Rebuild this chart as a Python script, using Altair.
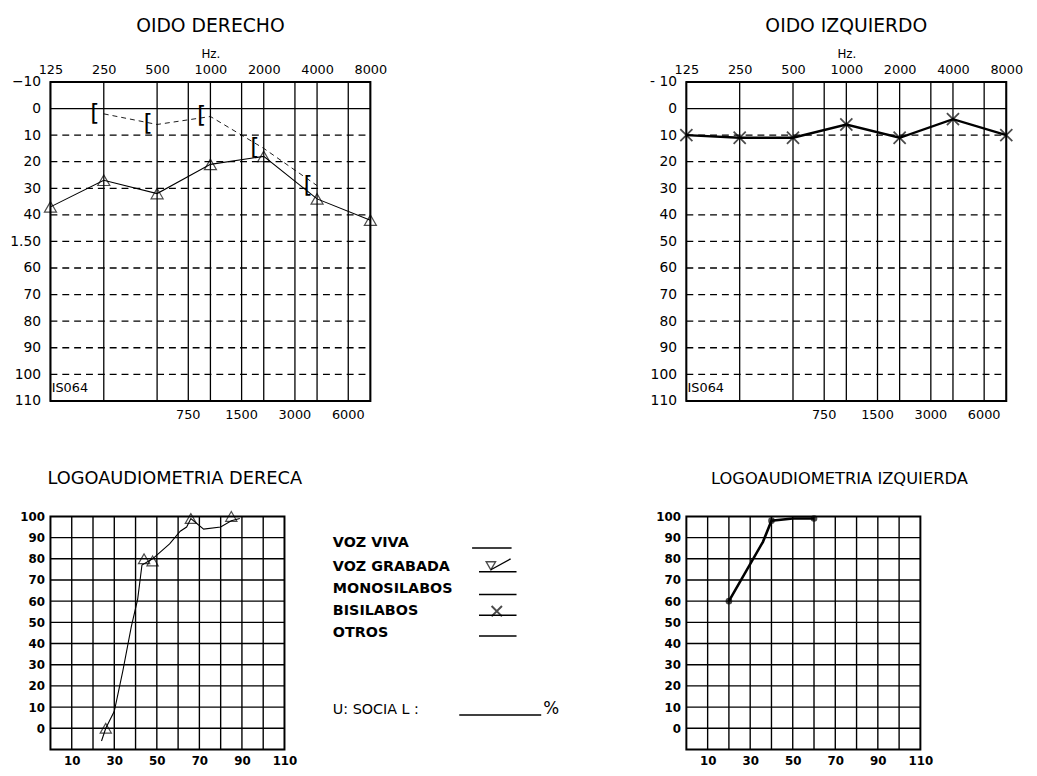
import altair as alt
import pandas as pd

FONT = "DejaVu Sans"

# ---------------- audiogram grids ----------------
FREQ_TOP = [125, 250, 500, 1000, 2000, 4000, 8000]
FREQ_BOTTOM = [750, 1500, 3000, 6000]
DB_TICKS = [-10, 0, 10, 20, 30, 40, 50, 60, 70, 80, 90, 100, 110]
DB_DASHED = [10, 20, 30, 40, 50, 60, 70, 80, 90, 100]
DB_SOLID = [0]

# right ear (OIDO DERECHO): air conduction (triangles) and bone conduction ([)
R_AC_FREQ = [125, 250, 500, 1000, 2000, 4000, 8000]
R_AC_DB = [37, 27, 32, 21, 18, 34, 42]
R_BC_FREQ = [250, 500, 1000, 2000, 4000]
R_BC_DB = [2, 6, 3, 15, 29]

# left ear (OIDO IZQUIERDO): X markers
L_AC_FREQ = [125, 250, 500, 1000, 2000, 4000, 8000]
L_AC_DB = [10, 11, 11, 6, 11, 4, 10]

# ---------------- speech audiometry ----------------
LOGO_X_GRID = [10, 20, 30, 40, 50, 60, 70, 80, 90, 100]
LOGO_Y_GRID = [0, 10, 20, 30, 40, 50, 60, 70, 80, 90]
LOGO_X_LABELS = [10, 30, 50, 70, 90, 110]
LOGO_Y_LABELS = [0, 10, 20, 30, 40, 50, 60, 70, 80, 90, 100]

R_LOGO_LINE_DB = [24, 26, 30, 34, 38, 41, 43, 48, 56, 61, 64, 66, 72, 80, 85, 89]
R_LOGO_LINE_PCT = [-6, 0, 8, 27, 48, 61, 77, 80, 87, 93, 95, 99, 94, 95, 98, 99]
R_LOGO_MARK_DB = [26, 44, 48, 66, 85]
R_LOGO_MARK_PCT = [0, 80, 79, 99, 100]

L_LOGO_LINE_DB = [20, 36, 40, 50, 60]
L_LOGO_LINE_PCT = [60, 88, 98, 99, 99]
L_LOGO_MARK_DB = [20, 40, 60]
L_LOGO_MARK_PCT = [60, 98, 99]

LEGEND_LABELS = ["VOZ VIVA", "VOZ GRABADA", "MONOSILABOS", "BISILABOS", "OTROS"]
SOCIAL_LABEL = "U:  SOCIA L :"

XSHAPE = "M-1,-1L1,1M-1,1L1,-1"

W_T, H_T = 324, 323
W_B, H_B = 237, 236

F_MIN, F_MAX = 125, 8000
DB_MIN, DB_MAX = -10, 110
xs = alt.Scale(type="log", domain=[F_MIN, F_MAX], nice=False)
ys = alt.Scale(domain=[DB_MIN, DB_MAX], reverse=True, nice=False, zero=False)


def audiogram_encoders(label_expr):
    ax_x = alt.Axis(
        orient="top", values=FREQ_TOP, format="d", title="Hz.",
        ticks=False, domain=False, grid=False, labelFlush=False,
        labelOverlap=False, labelFontSize=13, labelPadding=6,
        titleFontSize=12, titleFontWeight="normal", titlePadding=3)
    ax_y = alt.Axis(
        values=DB_TICKS, title=None, ticks=False, domain=False, grid=False,
        labelOverlap=False, labelFontSize=14, labelPadding=10, labelExpr=label_expr)

    def X(field):
        return alt.X(field, type="quantitative", scale=xs, axis=ax_x)

    def Y(field):
        return alt.Y(field, type="quantitative", scale=ys, axis=ax_y)

    return X, Y


def audiogram(title, label_expr, series_fn):
    X, Y = audiogram_encoders(label_expr)
    vtop = alt.Chart(pd.DataFrame({"f": FREQ_TOP, "a": DB_MIN, "b": DB_MAX})).mark_rule(
        color="black", strokeWidth=1.3
    ).encode(x=X("f"), y=Y("a"), y2="b:Q")
    vbot = alt.Chart(pd.DataFrame({"f": FREQ_BOTTOM, "a": DB_MIN, "b": DB_MAX})).mark_rule(
        color="black", strokeWidth=1.3
    ).encode(x=X("f"), y=Y("a"), y2="b:Q")
    vbot_lab = alt.Chart(pd.DataFrame({"f": FREQ_BOTTOM, "a": DB_MAX})).mark_text(
        fontSize=13, font=FONT, color="black", baseline="top", dy=8
    ).encode(x=X("f"), y=Y("a"), text=alt.Text("f:Q", format="d"))
    hdash = alt.Chart(pd.DataFrame({"d": DB_DASHED, "a": F_MIN, "b": F_MAX})).mark_rule(
        color="black", strokeWidth=1.3, strokeDash=[7, 5]
    ).encode(y=Y("d"), x=X("a"), x2="b:Q")
    hsolid = alt.Chart(pd.DataFrame({"d": DB_SOLID, "a": F_MIN, "b": F_MAX})).mark_rule(
        color="black", strokeWidth=1.3
    ).encode(y=Y("d"), x=X("a"), x2="b:Q")
    iso = alt.Chart(pd.DataFrame({"f": [127], "d": [105], "t": ["IS064"]})).mark_text(
        align="left", baseline="middle", fontSize=13, font=FONT, color="black"
    ).encode(x=X("f"), y=Y("d"), text="t:N")
    layers = [vtop, vbot, vbot_lab, hdash, hsolid, iso] + series_fn(X, Y)
    return alt.layer(*layers).properties(
        width=W_T, height=H_T,
        title=alt.TitleParams(title, fontSize=19, fontWeight="normal", font=FONT,
                              anchor="middle", offset=12),
    )


r_ac = pd.DataFrame({"f": R_AC_FREQ, "d": R_AC_DB})
r_bc = pd.DataFrame({"f": R_BC_FREQ, "d": R_BC_DB})
l_ac = pd.DataFrame({"f": L_AC_FREQ, "d": L_AC_DB})


def right_series(X, Y):
    return [
        alt.Chart(r_ac).mark_line(color="black", strokeWidth=1.1).encode(x=X("f"), y=Y("d")),
        alt.Chart(r_ac).mark_point(shape="triangle-up", filled=False, color="black",
                                   size=150, strokeWidth=1.2).encode(x=X("f"), y=Y("d")),
        alt.Chart(r_bc).mark_line(color="black", strokeWidth=0.9, strokeDash=[5, 4]).encode(
            x=X("f"), y=Y("d")),
        alt.Chart(r_bc).mark_text(text="[", fontSize=24, font=FONT, color="black", dx=-9).encode(
            x=X("f"), y=Y("d")),
    ]


def left_series(X, Y):
    return [
        alt.Chart(l_ac).mark_line(color="black", strokeWidth=2.4).encode(x=X("f"), y=Y("d")),
        alt.Chart(l_ac).mark_point(shape=XSHAPE, filled=False, color="black",
                                   size=150, strokeWidth=1.8).encode(x=X("f"), y=Y("d")),
    ]


oido_der = audiogram("OIDO DERECHO", "datum.value == 50 ? '1.50' : datum.label", right_series)
oido_izq = audiogram("OIDO IZQUIERDO", "datum.value == -10 ? '- 10' : datum.label", left_series)

# ---------------- speech audiometry panels ----------------
LX_MIN, LX_MAX = 0, 110
LY_MIN, LY_MAX = -10, 100
lx = alt.Scale(domain=[LX_MIN, LX_MAX], nice=False, zero=False)
ly = alt.Scale(domain=[LY_MIN, LY_MAX], nice=False, zero=False)

AX_LX = alt.Axis(values=LOGO_X_LABELS, title=None, ticks=False, domain=False, grid=False,
                 labelFlush=False, labelOverlap=False, labelFontSize=12,
                 labelFontWeight="bold", labelPadding=6)
AX_LY = alt.Axis(values=LOGO_Y_LABELS, title=None, ticks=False, domain=False, grid=False,
                 labelOverlap=False, labelFontSize=12, labelFontWeight="bold", labelPadding=6)


def LX(field):
    return alt.X(field, type="quantitative", scale=lx, axis=AX_LX)


def LY(field):
    return alt.Y(field, type="quantitative", scale=ly, axis=AX_LY)


def logo(title, dx, fsize, offset, series):
    vg = alt.Chart(pd.DataFrame({"v": LOGO_X_GRID, "a": LY_MIN, "b": LY_MAX})).mark_rule(
        color="black", strokeWidth=1.4
    ).encode(x=LX("v"), y=LY("a"), y2="b:Q")
    hg = alt.Chart(pd.DataFrame({"v": LOGO_Y_GRID, "a": LX_MIN, "b": LX_MAX})).mark_rule(
        color="black", strokeWidth=1.4
    ).encode(y=LY("v"), x=LX("a"), x2="b:Q")
    return alt.layer(vg, hg, *series).properties(
        width=W_B, height=H_B,
        title=alt.TitleParams(title, fontSize=fsize, fontWeight="normal", font=FONT,
                              anchor="start", dx=dx, offset=offset, frame="group"),
    )


rl_line = pd.DataFrame({"x": R_LOGO_LINE_DB, "y": R_LOGO_LINE_PCT})
rl_mark = pd.DataFrame({"x": R_LOGO_MARK_DB, "y": R_LOGO_MARK_PCT})
ll_line = pd.DataFrame({"x": L_LOGO_LINE_DB, "y": L_LOGO_LINE_PCT})
ll_mark = pd.DataFrame({"x": L_LOGO_MARK_DB, "y": L_LOGO_MARK_PCT})


# legend placement (pixel offsets from the speech plot's top-left, mapped to scale units)
def ux(px):
    return px / W_B * (LX_MAX - LX_MIN) + LX_MIN


def uy(py):
    return LY_MAX - py / H_B * (LY_MAX - LY_MIN)


legend_y = [27, 51, 74, 96, 118]
legend_line_y = [32, 56, 79, 100, 121]
leg_text = pd.DataFrame({
    "t": LEGEND_LABELS,
    "x": [ux(286)] * 5,
    "y": [uy(v) for v in legend_y],
})
social_text = pd.DataFrame({"t": [SOCIAL_LABEL], "x": [ux(286)], "y": [uy(196)]})
leg_lines = pd.DataFrame({
    "x": [ux(427)] + [ux(434)] * 4 + [ux(414)],
    "x2": [ux(467)] + [ux(472)] * 4 + [ux(497)],
    "y": [uy(v) for v in legend_line_y + [201]],
})
legend_layers = [
    alt.Chart(leg_text).mark_text(
        align="left", baseline="middle", fontSize=14.5, fontWeight="bold", font=FONT, color="black"
    ).encode(x=LX("x"), y=LY("y"), text="t:N"),
    alt.Chart(social_text).mark_text(
        align="left", baseline="middle", fontSize=14.5, font=FONT, color="black"
    ).encode(x=LX("x"), y=LY("y"), text="t:N"),
    alt.Chart(leg_lines).mark_rule(color="black", strokeWidth=1.5).encode(
        x=LX("x"), x2="x2:Q", y=LY("y")),
    alt.Chart(pd.DataFrame({"x": [ux(446)], "y": [uy(50)]})).mark_point(
        shape="triangle-down", filled=False, color="black", size=90, strokeWidth=1.4
    ).encode(x=LX("x"), y=LY("y")),
    alt.Chart(pd.DataFrame({"x": [ux(446)], "x2": [ux(466)], "y": [uy(54)], "y2": [uy(43)]})).mark_rule(
        color="black", strokeWidth=1.4
    ).encode(x=LX("x"), x2="x2:Q", y=LY("y"), y2="y2:Q"),
    alt.Chart(pd.DataFrame({"x": [ux(452)], "y": [uy(96)]})).mark_point(
        shape=XSHAPE, filled=False, color="black", size=110, strokeWidth=2
    ).encode(x=LX("x"), y=LY("y")),
    alt.Chart(pd.DataFrame({"x": [ux(499)], "y": [uy(195)], "t": ["%"]})).mark_text(
        align="left", baseline="middle", fontSize=17, font=FONT, color="black"
    ).encode(x=LX("x"), y=LY("y"), text="t:N"),
]

logo_der_series = [
    alt.Chart(rl_line).mark_line(color="black", strokeWidth=1.1).encode(x=LX("x"), y=LY("y")),
    alt.Chart(rl_mark).mark_point(shape="triangle-up", filled=False, color="black",
                                  size=130, strokeWidth=1.2).encode(x=LX("x"), y=LY("y")),
] + legend_layers

logo_izq_series = [
    alt.Chart(ll_line).mark_line(color="black", strokeWidth=2.6).encode(x=LX("x"), y=LY("y")),
    alt.Chart(ll_mark).mark_point(shape="circle", filled=True, color="black",
                                  size=45).encode(x=LX("x"), y=LY("y")),
]

logo_der = logo("LOGOAUDIOMETRIA DERECA", -3, 18, 21, logo_der_series)
logo_izq = logo("LOGOAUDIOMETRIA IZQUIERDA", 25, 16.5, 23, logo_izq_series)

chart = alt.concat(
    oido_der, oido_izq, logo_der, logo_izq,
    columns=2, spacing={"row": 117, "column": 320}, bounds="flush",
).properties(
    padding={"left": 0, "top": 3, "right": 5, "bottom": 5},
    background="white",
).configure_view(
    stroke="black", strokeWidth=2
).configure_axis(
    labelFont=FONT, titleFont=FONT, labelColor="black", titleColor="black"
).configure_title(
    font=FONT, color="black"
)

chart.save("out.html", embed_options={"renderer": "svg", "actions": False})
